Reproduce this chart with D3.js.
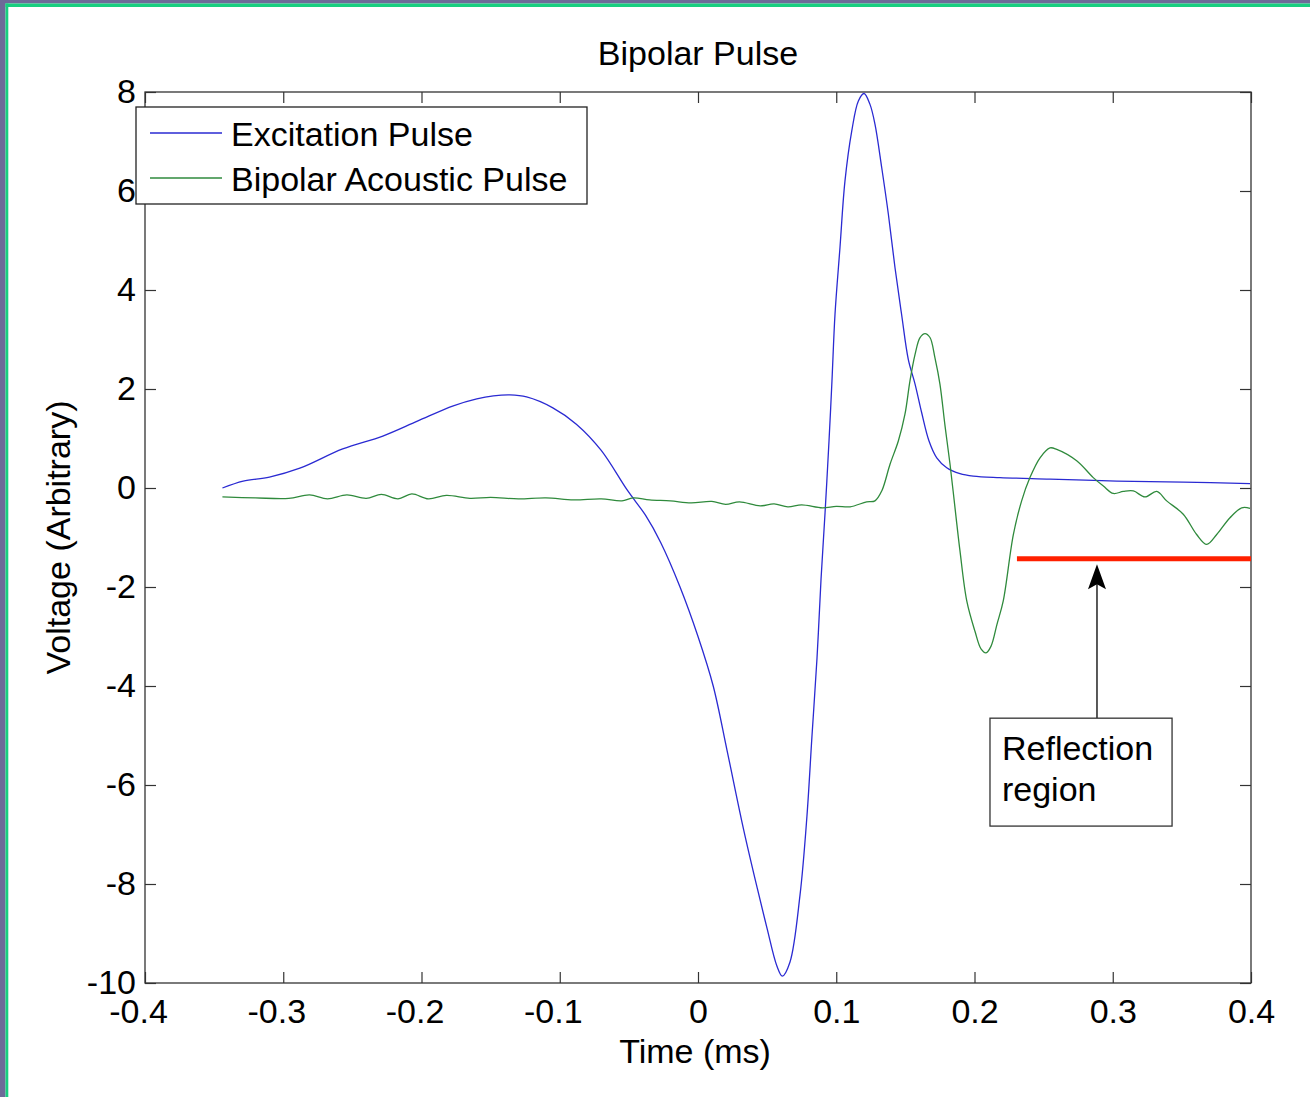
<!DOCTYPE html>
<html>
<head>
<meta charset="utf-8">
<script src="https://cdn.jsdelivr.net/npm/d3@7"></script>
<style>
  body { margin: 0; background: #fff; }
  text { font-family: "Liberation Sans", Arial, Helvetica, sans-serif; }
</style>
</head>
<body>
<div id="chart"></div>
<script>
// data (time in ms, voltage arbitrary)
var excitationTime = [-0.344,-0.329,-0.310,-0.288,-0.257,-0.228,-0.203,-0.177,-0.160,-0.148,-0.136,-0.124,-0.105,-0.088,-0.070,-0.051,-0.038,-0.027,-0.013,0.000,0.011,0.021,0.033,0.043,0.050,0.057,0.061,0.0665,0.0738,0.0788,0.0824,0.0861,0.0890,0.0919,0.0948,0.0969,0.0991,0.1027,0.1063,0.1112,0.1160,0.1201,0.1244,0.1280,0.1329,0.1377,0.1425,0.1473,0.1521,0.1570,0.1618,0.1671,0.1727,0.1799,0.1895,0.1991,0.2184,0.2546,0.3029,0.3510,0.3993];
var excitationVolt = [0.00,0.14,0.22,0.40,0.79,1.05,1.35,1.66,1.80,1.86,1.88,1.84,1.62,1.29,0.76,-0.05,-0.55,-1.10,-2.00,-3.00,-4.00,-5.30,-6.90,-8.10,-8.90,-9.65,-9.86,-9.58,-8.22,-6.63,-5.03,-3.43,-1.84,-0.50,0.97,2.16,3.51,4.86,6.20,7.21,7.82,7.97,7.75,7.35,6.47,5.53,4.45,3.50,2.60,2.10,1.52,0.95,0.61,0.41,0.29,0.24,0.21,0.18,0.14,0.12,0.09];

var acousticTime = [-0.344,-0.320,-0.296,-0.281,-0.268,-0.254,-0.240,-0.229,-0.217,-0.207,-0.195,-0.182,-0.165,-0.150,-0.130,-0.110,-0.090,-0.070,-0.055,-0.047,-0.035,-0.020,-0.005,0.010,0.020,0.030,0.045,0.055,0.065,0.075,0.090,0.100,0.110,0.122,0.128,0.1329,0.1389,0.1449,0.1497,0.1533,0.1570,0.1606,0.1642,0.1678,0.1714,0.1750,0.1787,0.1823,0.1871,0.1895,0.1944,0.2004,0.2047,0.2083,0.2119,0.2163,0.2208,0.2281,0.2341,0.2401,0.2474,0.2546,0.2595,0.2739,0.2859,0.2932,0.3004,0.3076,0.3149,0.3233,0.3318,0.3390,0.3510,0.3607,0.3680,0.3752,0.3848,0.3933,0.3993];
var acousticVolt = [-0.18,-0.20,-0.21,-0.14,-0.22,-0.14,-0.21,-0.13,-0.22,-0.12,-0.22,-0.15,-0.21,-0.19,-0.22,-0.20,-0.24,-0.22,-0.26,-0.20,-0.24,-0.26,-0.30,-0.27,-0.33,-0.28,-0.36,-0.32,-0.38,-0.34,-0.40,-0.37,-0.38,-0.28,-0.26,-0.06,0.48,0.95,1.49,2.16,2.70,3.04,3.12,3.04,2.63,2.10,1.25,0.48,-0.70,-1.27,-2.28,-2.90,-3.25,-3.33,-3.20,-2.75,-2.28,-0.94,-0.26,0.21,0.61,0.81,0.78,0.55,0.21,0.04,-0.11,-0.07,-0.06,-0.18,-0.07,-0.26,-0.53,-0.94,-1.14,-0.94,-0.60,-0.40,-0.41];

var xTicks = [-0.4,-0.3,-0.2,-0.1,0,0.1,0.2,0.3,0.4];
var xTickLabels = ["-0.4","-0.3","-0.2","-0.1","0","0.1","0.2","0.3","0.4"];
var yTicks = [-10,-8,-6,-4,-2,0,2,4,6,8];
var yTickLabels = ["-10","-8","-6","-4","-2","0","2","4","6","8"];

var seriesNames = ["Excitation Pulse", "Bipolar Acoustic Pulse"];
var seriesColors = ["#2a2ad2", "#2f8a3c"];

// annotation: reflection region bar, arrow and text box (data units)
var reflectionStart = 0.2307, reflectionEnd = 0.4, reflectionLevel = -1.43;
var arrowTime = 0.2886, arrowTip = -1.54, arrowTail = -4.65;
var noteBox = [0.2112, 0.3429, -4.65, -6.83];   // t0, t1, v top, v bottom
var noteLines = ["Reflection", "region"];

var width = 1310, height = 1097;
var margin = { top: 92, right: 59, bottom: 114, left: 145 };
var fs = 34;

var svg = d3.select("#chart").append("svg")
  .attr("width", width)
  .attr("height", height);

// screenshot frame
svg.append("rect").attr("x", 0).attr("y", 0).attr("width", width).attr("height", height).attr("fill", "#fff");
svg.append("rect").attr("x", 0).attr("y", 0).attr("width", width).attr("height", 3.5).attr("fill", "#6d6b98");
svg.append("rect").attr("x", 0).attr("y", 0).attr("width", 5.5).attr("height", height).attr("fill", "#6d6b98");
svg.append("rect").attr("x", 5.5).attr("y", 3.5).attr("width", width).attr("height", 3.5).attr("fill", "#18cf80");
svg.append("rect").attr("x", 5.5).attr("y", 3.5).attr("width", 2.8).attr("height", height).attr("fill", "#18cf80");

var x = d3.scaleLinear().domain([-0.4, 0.4]).range([margin.left, width - margin.right]);
var y = d3.scaleLinear().domain([-10, 8]).range([height - margin.bottom, margin.top]);

// axes with inward ticks, MATLAB-style box
var xAxis = svg.append("g")
  .attr("transform", `translate(0,${y(-10)})`)
  .call(d3.axisBottom(x).tickValues(xTicks).tickSizeInner(-11).tickSizeOuter(0).tickPadding(16)
    .tickFormat((d, i) => xTickLabels[i]));
xAxis.selectAll("text").attr("dx", d => d < 0 ? -7 : 0);

var yAxis = svg.append("g")
  .attr("transform", `translate(${x(-0.4)},0)`)
  .call(d3.axisLeft(y).tickValues(yTicks).tickSizeInner(-11).tickSizeOuter(0).tickPadding(9)
    .tickFormat((d, i) => yTickLabels[i]));

svg.append("g")
  .attr("transform", `translate(0,${y(8)})`)
  .call(d3.axisTop(x).tickValues(xTicks).tickSizeInner(-11).tickSizeOuter(0).tickFormat(""));
svg.append("g")
  .attr("transform", `translate(${x(0.4)},0)`)
  .call(d3.axisRight(y).tickValues(yTicks).tickSizeInner(-11).tickSizeOuter(0).tickFormat(""));

svg.selectAll(".domain").remove();
svg.selectAll(".tick line").attr("stroke", "#333").attr("stroke-width", 1.2);
svg.selectAll(".tick text").attr("fill", "#000").style("font-size", fs + "px")
  .style("font-family", '"Liberation Sans", Arial, sans-serif');

svg.append("rect")
  .attr("x", x(-0.4)).attr("y", y(8))
  .attr("width", x(0.4) - x(-0.4)).attr("height", y(-10) - y(8))
  .attr("fill", "none").attr("stroke", "#333").attr("stroke-width", 1.3);

// lines
var line = d3.line()
  .x(d => x(d[0]))
  .y(d => y(d[1]))
  .curve(d3.curveCatmullRom.alpha(0.5));

svg.append("path")
  .datum(d3.zip(excitationTime, excitationVolt))
  .attr("fill", "none").attr("stroke", seriesColors[0]).attr("stroke-width", 1.3)
  .attr("d", line);

svg.append("path")
  .datum(d3.zip(acousticTime, acousticVolt))
  .attr("fill", "none").attr("stroke", seriesColors[1]).attr("stroke-width", 1.3)
  .attr("d", line);

// reflection region bar
svg.append("line")
  .attr("x1", x(reflectionStart)).attr("x2", x(reflectionEnd))
  .attr("y1", y(reflectionLevel)).attr("y2", y(reflectionLevel))
  .attr("stroke", "#ff2000").attr("stroke-width", 5);

// arrow
var ax = x(arrowTime), ay = y(arrowTip);
svg.append("line")
  .attr("x1", ax).attr("x2", ax)
  .attr("y1", y(arrowTail)).attr("y2", ay + 12)
  .attr("stroke", "#000").attr("stroke-width", 1.3);
svg.append("path")
  .attr("d", `M${ax},${ay} L${ax - 9},${ay + 25} L${ax},${ay + 20} L${ax + 9},${ay + 25} Z`)
  .attr("fill", "#000");

// note box
svg.append("rect")
  .attr("x", x(noteBox[0])).attr("y", y(noteBox[2]))
  .attr("width", x(noteBox[1]) - x(noteBox[0]))
  .attr("height", y(noteBox[3]) - y(noteBox[2]))
  .attr("fill", "#fff").attr("stroke", "#333").attr("stroke-width", 1.3);

svg.append("g").selectAll("text")
  .data(noteLines)
  .enter().append("text")
  .attr("x", x(noteBox[0]) + 12)
  .attr("y", (d, i) => y(noteBox[2]) + 42 + i * 40.5)
  .style("font-size", fs + "px")
  .text(d => d);

// titles
svg.append("text")
  .attr("x", x(0)).attr("y", 65)
  .attr("text-anchor", "middle")
  .style("font-size", fs + "px")
  .text("Bipolar Pulse");

svg.append("text")
  .attr("x", x(0) - 3).attr("y", 1063)
  .attr("text-anchor", "middle")
  .style("font-size", fs + "px")
  .text("Time (ms)");

svg.append("text")
  .attr("transform", `translate(70,${y(-1)}) rotate(-90)`)
  .attr("text-anchor", "middle")
  .style("font-size", fs + "px")
  .text("Voltage (Arbitrary)");

// legend
var legend = svg.append("g").attr("transform", "translate(136,107)");
legend.append("rect")
  .attr("width", 451).attr("height", 97)
  .attr("fill", "#fff").attr("stroke", "#222").attr("stroke-width", 1.3);

var items = legend.selectAll(".item")
  .data(seriesNames)
  .enter().append("g")
  .attr("transform", (d, i) => `translate(0,${26 + i * 45})`);
items.append("line")
  .attr("x1", 14).attr("x2", 86)
  .attr("stroke", (d, i) => seriesColors[i]).attr("stroke-width", 1.3);
items.append("text")
  .attr("x", 95).attr("y", 13)
  .style("font-size", fs + "px")
  .text(d => d);
</script>
</body>
</html>
